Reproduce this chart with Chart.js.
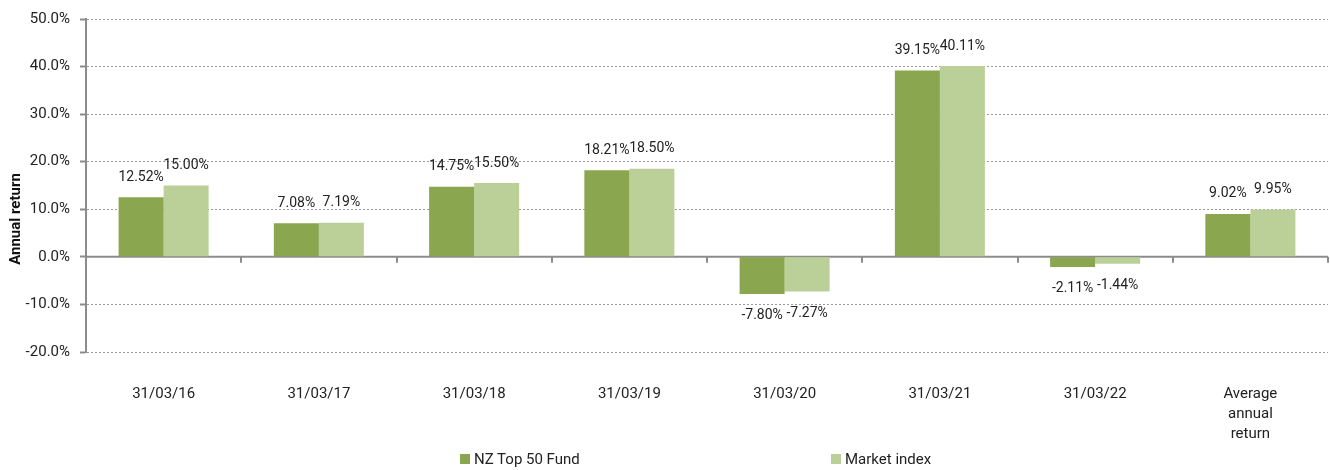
<!DOCTYPE html>
<html>
<head>
<meta charset="utf-8">
<script src="https://cdn.jsdelivr.net/npm/chart.js@4/dist/chart.umd.min.js"></script>
<style>
  html, body { margin: 0; padding: 0; background: #fff; }
  #wrap { position: relative; width: 1330px; height: 470px; }
  canvas { position: absolute; left: 0; top: 0; }
  .leg { position: absolute; top: 450px; font: 15px Roboto, sans-serif; color: #222; display: flex; align-items: center; white-space: nowrap; }
  .leg i { display: inline-block; width: 10px; height: 10px; margin-right: 4px; }
</style>
</head>
<body>
<div id="wrap">
  <canvas id="c" width="1330" height="470"></canvas>
  <div class="leg" style="left:460px"><i style="background:#8AA64E"></i>NZ Top 50 Fund</div>
  <div class="leg" style="left:831px"><i style="background:#BBD098"></i>Market index</div>
</div>
<script>
const categories = ['31/03/16', '31/03/17', '31/03/18', '31/03/19', '31/03/20', '31/03/21', '31/03/22', ['Average', 'annual', 'return']];
const fundValues = [12.52, 7.08, 14.75, 18.21, -7.80, 39.15, -2.11, 9.02];
const marketValues = [15.00, 7.19, 15.50, 18.50, -7.27, 40.11, -1.44, 9.95];
const seriesNames = ['NZ Top 50 Fund', 'Market index'];
const yTicks = { min: -20, max: 50, step: 10 };
const yTitle = 'Annual return';

const FONT = 'Roboto, sans-serif';

const labelPlugin = {
  id: 'valueLabels',
  afterDatasetsDraw(chart) {
    const ctx = chart.ctx;
    ctx.save();
    ctx.font = '14px ' + FONT;
    ctx.fillStyle = '#222';
    ctx.textAlign = 'center';
    ctx.textBaseline = 'middle';
    chart.data.datasets.forEach((ds, di) => {
      const meta = chart.getDatasetMeta(di);
      meta.data.forEach((el, i) => {
        const v = ds.data[i];
        const y = v >= 0 ? el.y - 20 : el.y + 22;
        ctx.fillText(v.toFixed(2) + '%', el.x, y);
      });
    });
    ctx.restore();
  }
};

const zeroLine = {
  id: 'zeroLine',
  beforeDatasetsDraw(chart) {
    const ctx = chart.ctx;
    const xs = chart.scales.x, ys = chart.scales.y;
    const y0 = ys.getPixelForValue(0);
    ctx.save();
    ctx.strokeStyle = '#8c8c8c';
    ctx.lineWidth = 2;
    ctx.setLineDash([]);
    ctx.beginPath();
    ctx.moveTo(xs.left, y0);
    ctx.lineTo(xs.right, y0);
    ctx.stroke();
    ctx.restore();
  }
};

const axisExtras = {
  id: 'axisExtras',
  afterDraw(chart) {
    const ctx = chart.ctx;
    const xs = chart.scales.x, ys = chart.scales.y;
    const y0 = ys.getPixelForValue(0);
    const half = (xs.getPixelForValue(1) - xs.getPixelForValue(0)) / 2;
    ctx.save();
    ctx.strokeStyle = '#8c8c8c';
    ctx.lineWidth = 2;
    ctx.setLineDash([]);
    for (let i = 0; i <= categories.length; i++) {
      const x = Math.round(xs.getPixelForValue(i) - half);
      ctx.beginPath();
      ctx.moveTo(x, y0);
      ctx.lineTo(x, y0 + 6);
      ctx.stroke();
    }
    ctx.translate(16, 219);
    ctx.rotate(-Math.PI / 2);
    ctx.font = 'bold 15px ' + FONT;
    ctx.fillStyle = '#111';
    ctx.textAlign = 'center';
    ctx.textBaseline = 'middle';
    ctx.fillText(yTitle, 0, 0);
    ctx.restore();
  }
};

new Chart(document.getElementById('c'), {
  type: 'bar',
  data: {
    labels: categories,
    datasets: [
      { label: seriesNames[0], data: fundValues, backgroundColor: '#8AA64E' },
      { label: seriesNames[1], data: marketValues, backgroundColor: '#BBD098' }
    ]
  },
  options: {
    responsive: false,
    animation: false,
    events: [],
    datasets: { bar: { categoryPercentage: 0.58, barPercentage: 1.0 } },
    layout: { padding: { top: 16, right: 2, left: 0, bottom: 0 } },
    plugins: { legend: { display: false }, tooltip: { enabled: false } },
    scales: {
      x: {
        grid: { display: false, drawTicks: false },
        border: { display: false },
        ticks: { font: { family: FONT, size: 15, lineHeight: 1.33 }, color: '#222', padding: 32, maxRotation: 0, autoSkip: false },
        afterFit(s) { s.height = 118; }
      },
      y: {
        min: yTicks.min, max: yTicks.max,
        ticks: {
          stepSize: yTicks.step,
          font: { family: FONT, size: 15 }, color: '#222', padding: 10,
          callback: v => v.toFixed(1) + '%'
        },
        grid: {
          color: '#9a9a9a',
          lineWidth: 1,
          tickBorderDash: [],
          tickColor: '#8c8c8c',
          tickWidth: 2,
          tickLength: 6
        },
        border: { display: true, color: '#8c8c8c', width: 2, dash: [2, 2] },
        afterFit(s) { s.width = 86; }
      }
    }
  },
  plugins: [zeroLine, labelPlugin, axisExtras]
});
</script>
</body>
</html>
